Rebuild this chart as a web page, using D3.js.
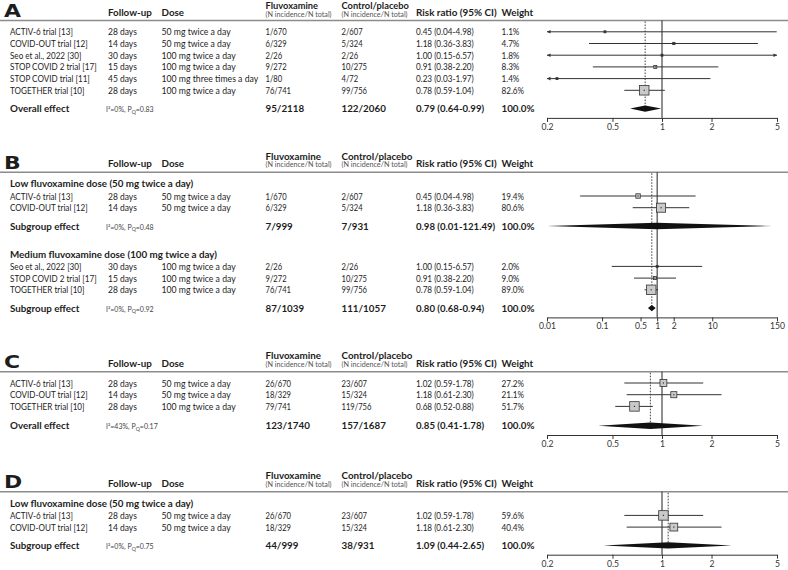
<!DOCTYPE html>
<html><head><meta charset="utf-8">
<script src="https://cdn.jsdelivr.net/npm/d3@7"></script>
<style>
body{margin:0;background:#fff;}
svg{display:block;font-family:Lato,"Noto Sans",sans-serif;}
</style></head>
<body><svg id="c" width="788" height="570"></svg>
<script>
// ---------- data ----------
const panelLetters = ["A","B","C","D"];
// row: study, follow-up, dose, fluvoxamine n/N, control n/N, RR, lower, upper, weight
const rowsA = [
  ["ACTIV-6 trial [13]","28 days","50 mg twice a day","1/670","2/607",0.45,0.04,4.98,1.1],
  ["COVID-OUT trial [12]","14 days","50 mg twice a day","6/329","5/324",1.18,0.36,3.83,4.7],
  ["Seo et al., 2022 [30]","30 days","100 mg twice a day","2/26","2/26",1.00,0.15,6.57,1.8],
  ["STOP COVID 2 trial [17]","15 days","100 mg twice a day","9/272","10/275",0.91,0.38,2.20,8.3],
  ["STOP COVID trial [11]","45 days","100 mg three times a day","1/80","4/72",0.23,0.03,1.97,1.4],
  ["TOGETHER trial [10]","28 days","100 mg twice a day","76/741","99/756",0.78,0.59,1.04,82.6]
];
// summary: label, I2, PQ, fluvoxamine, control, RR, lower, upper, weight
const summaryA = ["Overall effect","0%","0.83","95/2118","122/2060",0.79,0.64,0.99,100.0];

const groupTitlesB = ["Low fluvoxamine dose (50 mg twice a day)","Medium fluvoxamine dose (100 mg twice a day)"];
const rowsB1 = [
  ["ACTIV-6 trial [13]","28 days","50 mg twice a day","1/670","2/607",0.45,0.04,4.98,19.4],
  ["COVID-OUT trial [12]","14 days","50 mg twice a day","6/329","5/324",1.18,0.36,3.83,80.6]
];
const summaryB1 = ["Subgroup effect","0%","0.48","7/999","7/931",0.98,0.01,121.49,100.0];
const rowsB2 = [
  ["Seo et al., 2022 [30]","30 days","100 mg twice a day","2/26","2/26",1.00,0.15,6.57,2.0],
  ["STOP COVID 2 trial [17]","15 days","100 mg twice a day","9/272","10/275",0.91,0.38,2.20,9.0],
  ["TOGETHER trial [10]","28 days","100 mg twice a day","76/741","99/756",0.78,0.59,1.04,89.0]
];
const summaryB2 = ["Subgroup effect","0%","0.92","87/1039","111/1057",0.80,0.68,0.94,100.0];

const rowsC = [
  ["ACTIV-6 trial [13]","28 days","50 mg twice a day","26/670","23/607",1.02,0.59,1.78,27.2],
  ["COVID-OUT trial [12]","14 days","50 mg twice a day","18/329","15/324",1.18,0.61,2.30,21.1],
  ["TOGETHER trial [10]","28 days","100 mg twice a day","79/741","119/756",0.68,0.52,0.88,51.7]
];
const summaryC = ["Overall effect","43%","0.17","123/1740","157/1687",0.85,0.41,1.78,100.0];

const groupTitlesD = ["Low fluvoxamine dose (50 mg twice a day)"];
const rowsD = [
  ["ACTIV-6 trial [13]","28 days","50 mg twice a day","26/670","23/607",1.02,0.59,1.78,59.6],
  ["COVID-OUT trial [12]","14 days","50 mg twice a day","18/329","15/324",1.18,0.61,2.30,40.4]
];
const summaryD = ["Subgroup effect","0%","0.75","44/999","38/931",1.09,0.44,2.65,100.0];

const ticksA = [0.2,0.5,1,2,5];
const ticksB = [0.01,0.1,0.5,1,2,10,150];
const ticksC = [0.2,0.5,1,2,5];
const ticksD = [0.2,0.5,1,2,5];
const pooledLines = [0.79,0.80,0.85,1.09];

const headerLabels = ["Follow-up","Dose","Fluvoxamine","Control/placebo","Risk ratio (95% CI)","Weight"];
const headerSub = "(N incidence/N total)";

// ---------- layout ----------
const W = 788;
const col = {study:10, fu:108, dose:161.5, fluv:265.5, ctrl:341.5, rr:416, wt:501.5, i2:106};
const fx0 = 547, fx1 = 777;
const ruleYs = [20.5, 172.3, 371.7, 491.7];

const panels = [
  {letter:panelLetters[0], groups:[{title:null, rows:rowsA, summary:summaryA}], ticks:ticksA, pooled:pooledLines[0], sumGap:18.3},
  {letter:panelLetters[1], groups:[{title:groupTitlesB[0], rows:rowsB1, summary:summaryB1},{title:groupTitlesB[1], rows:rowsB2, summary:summaryB2}], ticks:ticksB, pooled:pooledLines[1], sumGap:18.3},
  {letter:panelLetters[2], groups:[{title:null, rows:rowsC, summary:summaryC}], ticks:ticksC, pooled:pooledLines[2], sumGap:19.3},
  {letter:panelLetters[3], groups:[{title:groupTitlesD[0], rows:rowsD, summary:summaryD}], ticks:ticksD, pooled:pooledLines[3], sumGap:18.3}
];

const svg = d3.select("#c");
const fs = 10, fsb = 9.8, txt = "#1d1d1d";

// calibrate horizontal scale of the regular text to the reference's narrower face
function measure(list, size, bold) {
  let w = 0;
  list.forEach(s => {
    const t = svg.append("text").attr("font-size", size).attr("font-weight", bold ? "bold" : "normal").text(s);
    w += t.node().getBBox().width; t.remove();
  });
  return w;
}
const sxName = (65 + 89.3 + 70) / measure(["ACTIV-6 trial [13]","STOP COVID 2 trial [17]","TOGETHER trial [10]"], fs, false);
const sxFu = (30 + 27.7) / measure(["28 days","15 days"], fs, false);
const sxDose = (70 + 75 + 97.6) / measure(["50 mg twice a day","100 mg twice a day","100 mg three times a day"], fs, false);
const sxNum = (59 + 57.3) / measure(["0.45 (0.04-4.98)","1.18 (0.36-3.83)"], fs, false);
const sxCnt = (26 + 21) / measure(["76/741","1/670"], fs, false);

function text(g, x, y, s, opt={}) {
  const sx = opt.sx || 1;
  return g.append("text")
    .attr("transform", `translate(${x},${y}) scale(${sx},1)`)
    .attr("font-size", opt.size || fs)
    .attr("font-weight", opt.bold ? "bold" : "normal")
    .attr("fill", opt.fill || txt)
    .attr("text-anchor", opt.anchor || "start")
    .attr("font-family", opt.family || null)
    .text(s);
}

panels.forEach((p, pi) => {
  const g = svg.append("g");
  const ruleY = ruleYs[pi];
  // header
  text(g, 4, ruleY - 3.8, p.letter, {size:18, bold:true, sx:1.22, family:"'DejaVu Sans',sans-serif"});
  text(g, col.fu, ruleY - 5, headerLabels[0], {bold:true, size:fsb});
  text(g, col.dose, ruleY - 5, headerLabels[1], {bold:true, size:fsb});
  const atTop = ruleY - 12.5 < 9.5;
  const topY = atTop ? 9.2 : ruleY - 12.5;
  const subY = atTop ? 16.7 : ruleY - 5;
  const topSize = atTop ? 9.3 : 9.8;
  text(g, col.fluv, topY, headerLabels[2], {bold:true, size:topSize});
  text(g, col.fluv, subY, headerSub, {size:7.2, fill:"#555"});
  text(g, col.ctrl, topY, headerLabels[3], {bold:true, size:topSize});
  text(g, col.ctrl, subY, headerSub, {size:7.2, fill:"#555"});
  text(g, col.rr, ruleY - 5, headerLabels[4], {bold:true, size:9.9});
  text(g, col.wt, ruleY - 5, headerLabels[5], {bold:true, size:fsb});
  g.append("line").attr("x1",0).attr("x2",W).attr("y1",ruleY).attr("y2",ruleY)
    .attr("stroke","#8c8c8c").attr("stroke-width",1.6);

  // scale
  const x = d3.scaleLog().domain([p.ticks[0], p.ticks[p.ticks.length-1]]).range([fx0, fx1]);
  const maxW = d3.max(p.groups.flatMap(gr => gr.rows.map(r => r[8])));
  const box = d3.scaleSqrt().domain([0, maxW]).range([0, 9.5]);

  // positions
  let y = ruleY + 11.3;
  const items = [];
  p.groups.forEach((gr, gi) => {
    if (gi > 0) y += 28;
    if (gr.title) { items.push({type:"title", y, d:gr.title}); y += 12.4; }
    gr.rows.forEach((r, ri) => {
      items.push({type:"row", y, d:r});
      if (ri < gr.rows.length - 1) y += 11.7;
    });
    y += p.sumGap;
    items.push({type:"sum", y, d:gr.summary});
  });
  const lastSumY = y;
  const axisY = lastSumY + 9.3;

  // reference lines
  g.append("line").attr("x1",x(1)).attr("x2",x(1)).attr("y1",ruleY).attr("y2",axisY)
    .attr("stroke","#222").attr("stroke-width",1);
  g.append("line").attr("x1",x(p.pooled)).attr("x2",x(p.pooled)).attr("y1",ruleY+1).attr("y2",lastSumY)
    .attr("stroke","#444").attr("stroke-width",1).attr("stroke-dasharray","1.6,1.4");

  const dy = 3.5; // baseline offset from row centre
  items.forEach(it => {
    const d = it.d;
    if (it.type === "title") {
      text(g, col.study, it.y + dy, d, {bold:true, size:fsb});
      return;
    }
    if (it.type === "row") {
      text(g, col.study, it.y + dy, d[0], {sx:sxName});
      text(g, col.fu, it.y + dy, d[1], {sx:sxFu});
      text(g, col.dose, it.y + dy, d[2], {sx:sxDose});
      text(g, col.fluv, it.y + dy, d[3], {sx:sxCnt});
      text(g, col.ctrl, it.y + dy, d[4], {sx:sxCnt});
      text(g, col.rr, it.y + dy, `${d[5].toFixed(2)} (${d[6].toFixed(2)}-${d[7].toFixed(2)})`, {sx:sxNum});
      text(g, col.wt, it.y + dy, `${d[8].toFixed(1)}%`, {sx:sxNum});
      // CI line
      const lo = Math.max(d[6], x.domain()[0]), hi = Math.min(d[7], x.domain()[1]);
      g.append("line").attr("x1",x(lo)).attr("x2",x(hi)).attr("y1",it.y).attr("y2",it.y)
        .attr("stroke","#333").attr("stroke-width",1);
      if (d[6] < x.domain()[0]) {
        const ax = x(x.domain()[0]);
        g.append("path").attr("d",`M${ax},${it.y}L${ax+3.5},${it.y-1.8}L${ax+3.5},${it.y+1.8}Z`).attr("fill","#333");
      }
      if (d[7] > x.domain()[1]) {
        const ax = x(x.domain()[1]);
        g.append("path").attr("d",`M${ax},${it.y}L${ax-3.5},${it.y-1.8}L${ax-3.5},${it.y+1.8}Z`).attr("fill","#333");
      }
      const s = Math.max(2, box(d[8]));
      g.append("rect").attr("x",x(d[5])-s/2).attr("y",it.y-s/2).attr("width",s).attr("height",s)
        .attr("fill", s > 3 ? "#c9c9c9" : "#333").attr("stroke","#333").attr("stroke-width",0.8);
      if (s > 3) {
        g.append("rect").attr("x",x(d[5])-0.6).attr("y",it.y-0.6).attr("width",1.2).attr("height",1.2).attr("fill","#333");
      }
      return;
    }
    // summary
    text(g, col.study, it.y + dy, d[0], {bold:true, size:fsb});
    const t = g.append("text").attr("x",col.i2).attr("y",it.y+dy).attr("font-size",7).attr("fill","#444");
    t.append("tspan").text(`I²=${d[1]}, P`);
    t.append("tspan").attr("font-size",5.2).attr("dy",1.8).text("Q");
    t.append("tspan").attr("dy",-1.8).text(`=${d[2]}`);
    text(g, col.fluv, it.y + dy, d[3], {bold:true, size:fsb});
    text(g, col.ctrl, it.y + dy, d[4], {bold:true, size:fsb});
    text(g, col.rr, it.y + dy, `${d[5].toFixed(2)} (${d[6].toFixed(2)}-${d[7].toFixed(2)})`, {bold:true, size:9.6});
    text(g, col.wt, it.y + dy, `${d[8].toFixed(1)}%`, {bold:true, size:fsb});
    const lo = Math.max(d[6], x.domain()[0]), hi = Math.min(d[7], x.domain()[1]);
    const h = 3.2;
    g.append("path")
      .attr("d",`M${x(lo)},${it.y}L${x(d[5])},${it.y-h}L${x(hi)},${it.y}L${x(d[5])},${it.y+h}Z`)
      .attr("fill","#111");
  });

  // axis
  const axis = d3.axisBottom(x).tickValues(p.ticks).tickFormat(d => String(d)).tickSize(4).tickSizeOuter(0).tickPadding(2);
  const ag = g.append("g").attr("transform",`translate(0,${axisY})`).call(axis);
  ag.select(".domain").attr("stroke","#333");
  ag.selectAll(".tick line").attr("stroke","#333");
  ag.selectAll(".tick text").attr("font-size",8.6).attr("fill","#333").attr("font-family","Lato,'Noto Sans',sans-serif");
});
</script>
</body></html>
